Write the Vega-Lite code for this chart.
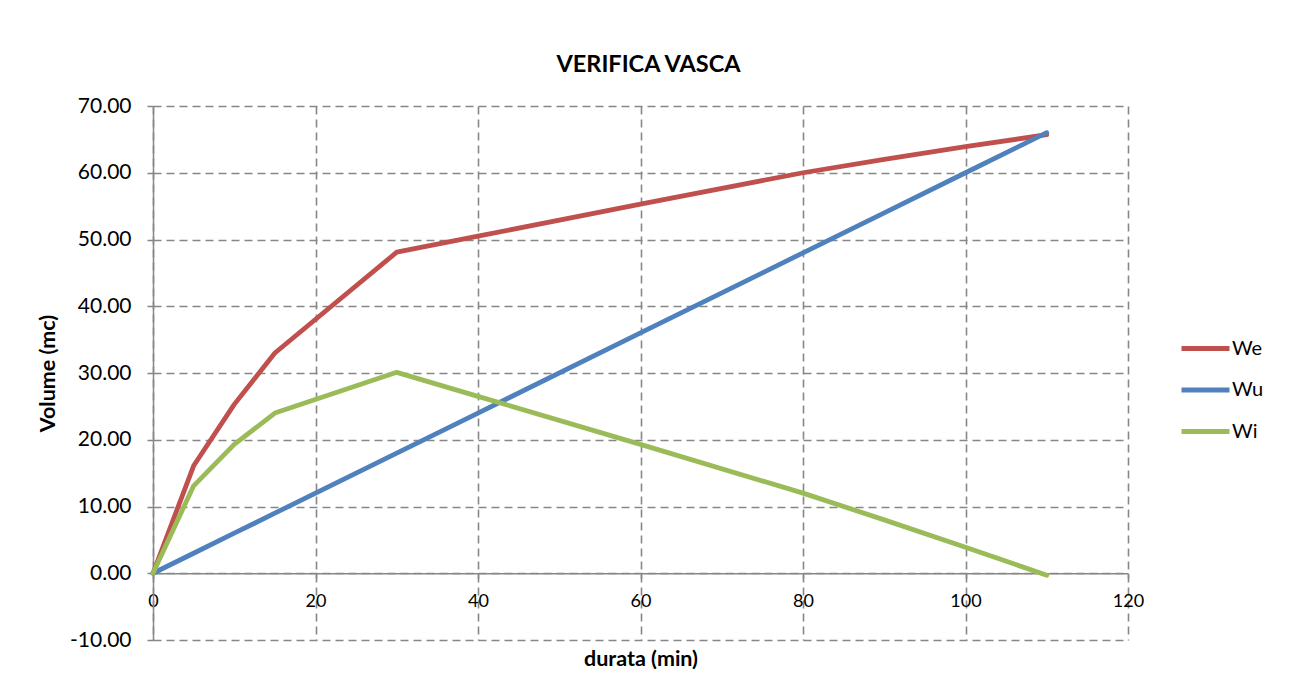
{
  "$schema": "https://vega.github.io/schema/vega-lite/v6.json",
  "autosize": "none",
  "width": 975,
  "height": 534,
  "padding": {"left": 153, "top": 106, "right": 161, "bottom": 58},
  "background": "white",
  "title": {
    "text": "VERIFICA VASCA",
    "font": "Lato",
    "fontSize": 23.5,
    "fontWeight": "bold",
    "color": "#000000",
    "offset": 19,
    "dx": 8
  },
  "data": {
    "values": [
      {"t": 0, "serie": "We", "v": 0},
      {"t": 5, "serie": "We", "v": 16.1},
      {"t": 10, "serie": "We", "v": 25.3},
      {"t": 15, "serie": "We", "v": 33.0},
      {"t": 30, "serie": "We", "v": 48.1},
      {"t": 40, "serie": "We", "v": 50.5},
      {"t": 60, "serie": "We", "v": 55.3},
      {"t": 80, "serie": "We", "v": 60.0},
      {"t": 90, "serie": "We", "v": 62.0},
      {"t": 100, "serie": "We", "v": 63.9},
      {"t": 110, "serie": "We", "v": 65.7},
      {"t": 0, "serie": "Wu", "v": 0},
      {"t": 5, "serie": "Wu", "v": 3},
      {"t": 10, "serie": "Wu", "v": 6},
      {"t": 15, "serie": "Wu", "v": 9},
      {"t": 30, "serie": "Wu", "v": 18},
      {"t": 40, "serie": "Wu", "v": 24},
      {"t": 60, "serie": "Wu", "v": 36},
      {"t": 80, "serie": "Wu", "v": 48},
      {"t": 90, "serie": "Wu", "v": 54},
      {"t": 100, "serie": "Wu", "v": 60},
      {"t": 110, "serie": "Wu", "v": 66},
      {"t": 0, "serie": "Wi", "v": 0},
      {"t": 5, "serie": "Wi", "v": 13.1},
      {"t": 10, "serie": "Wi", "v": 19.3},
      {"t": 15, "serie": "Wi", "v": 24.0},
      {"t": 30, "serie": "Wi", "v": 30.1},
      {"t": 40, "serie": "Wi", "v": 26.5},
      {"t": 60, "serie": "Wi", "v": 19.3},
      {"t": 80, "serie": "Wi", "v": 12.0},
      {"t": 90, "serie": "Wi", "v": 8.0},
      {"t": 100, "serie": "Wi", "v": 3.9},
      {"t": 110, "serie": "Wi", "v": -0.3}
    ]
  },
  "mark": {"type": "line", "strokeWidth": 4.8, "strokeCap": "round", "strokeJoin": "round"},
  "encoding": {
    "x": {
      "field": "t",
      "type": "quantitative",
      "scale": {"domain": [0, 120], "nice": false, "zero": false},
      "axis": {
        "values": [0, 20, 40, 60, 80, 100, 120],
        "offset": -66.75,
        "zindex": 0,
        "labelFlush": false,
        "title": "durata (min)",
        "titleFont": "Lato",
        "titleFontSize": 21.5,
        "titleFontWeight": "bold",
        "titleColor": "#000000",
        "titlePadding": 38,
        "labelFont": "Lato",
        "labelFontSize": 18,
        "labelColor": "#000000",
        "labelPadding": 14,
        "tickSize": 5,
        "tickColor": "#878787",
        "tickWidth": 1.5,
        "domainColor": "#878787",
        "domainWidth": 1.5,
        "grid": true,
        "gridColor": "#878787",
        "gridWidth": 1.6,
        "gridDash": [8, 5],
        "gridOpacity": 1
      }
    },
    "y": {
      "field": "v",
      "type": "quantitative",
      "scale": {"domain": [-10, 70], "nice": false, "zero": false},
      "axis": {
        "values": [-10, 0, 10, 20, 30, 40, 50, 60, 70],
        "labelExpr": "replace(format(datum.value, '.2f'), '\u2212', '-')",
        "zindex": 0,
        "title": "Volume (mc)",
        "titleFont": "Lato",
        "titleFontSize": 21.5,
        "titleFontWeight": "bold",
        "titleColor": "#000000",
        "titlePadding": 10,
        "labelFont": "Lato",
        "labelFontSize": 21,
        "labelColor": "#000000",
        "labelPadding": 16,
        "tickSize": 6,
        "tickColor": "#878787",
        "tickWidth": 1.5,
        "domainColor": "#878787",
        "domainWidth": 1.5,
        "grid": true,
        "gridColor": "#878787",
        "gridWidth": 1.6,
        "gridDash": [8, 5],
        "gridOpacity": 1
      }
    },
    "color": {
      "field": "serie",
      "type": "nominal",
      "sort": ["We", "Wu", "Wi"],
      "scale": {"domain": ["We", "Wu", "Wi"], "range": ["#C0504D", "#4F81BD", "#9BBB59"]},
      "legend": {
        "title": null,
        "orient": "none",
        "legendX": 1026,
        "legendY": 216,
        "symbolType": "stroke",
        "symbolSize": 2304,
        "symbolStrokeWidth": 5,
        "labelFont": "Lato",
        "labelFontSize": 20,
        "labelColor": "#000000",
        "labelOffset": 0,
        "rowPadding": 4.5
      }
    }
  },
  "config": {
    "view": {"stroke": null}
  }
}
